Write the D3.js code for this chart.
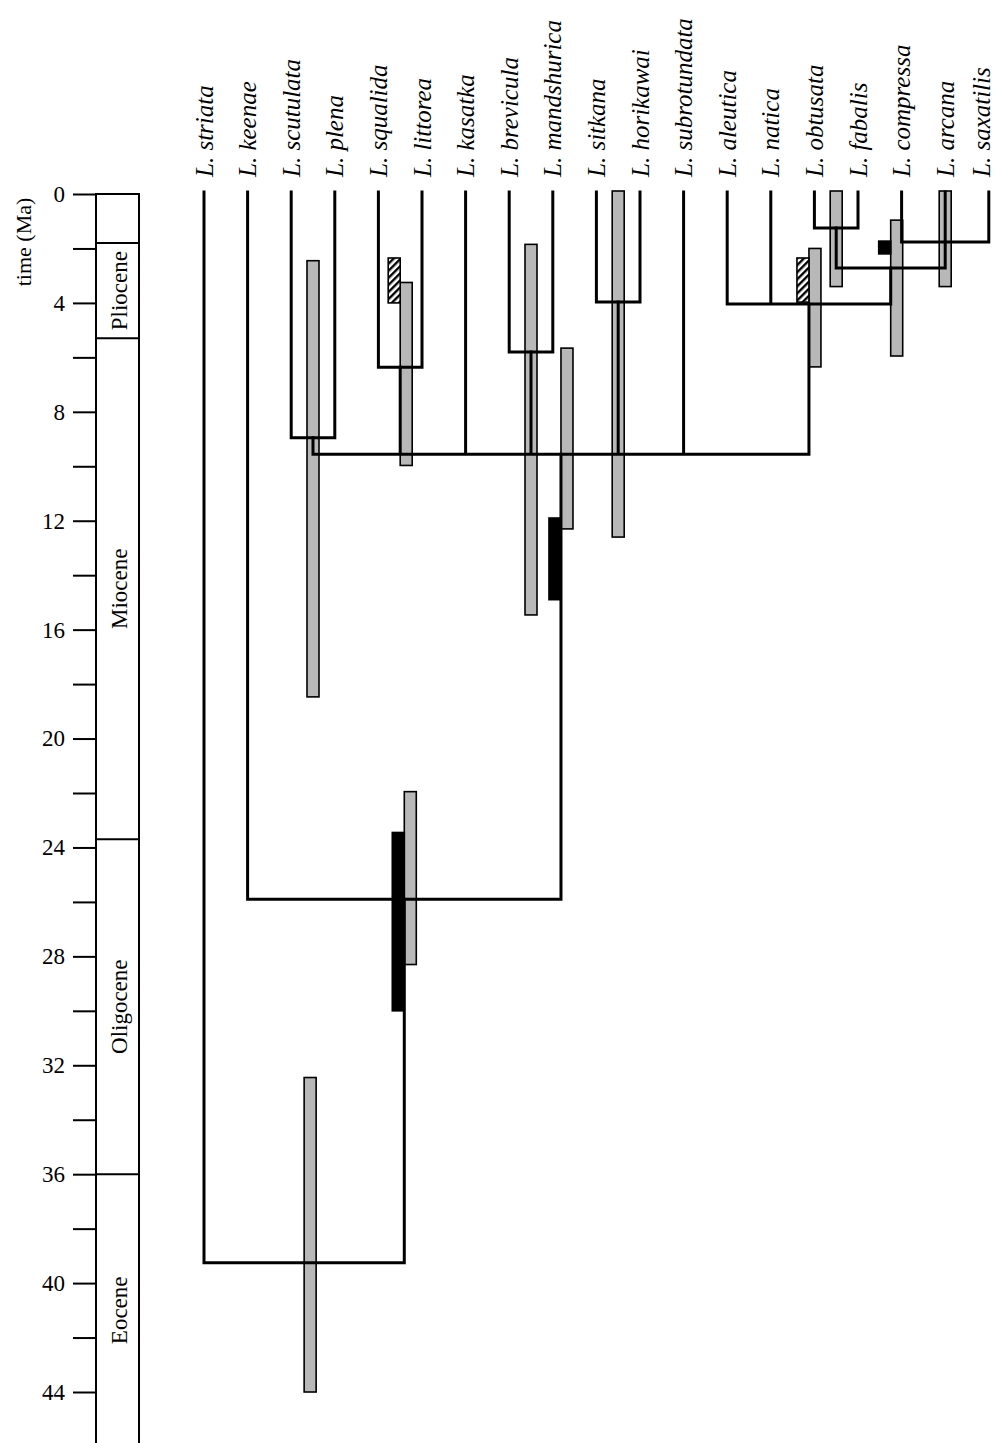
<!DOCTYPE html>
<html>
<head>
<meta charset="utf-8">
<script src="https://cdn.jsdelivr.net/npm/d3@7"></script>
<style>
  html, body { margin: 0; padding: 0; background: #fff; }
  svg { display: block; }
  text { font-family: "Liberation Serif", "Times New Roman", serif; fill: #000; }
</style>
</head>
<body>
<script>
// ---------- DATA ----------
const species = [
  "L. striata", "L. keenae", "L. scutulata", "L. plena", "L. squalida",
  "L. littorea", "L. kasatka", "L. brevicula", "L. mandshurica", "L. sitkana",
  "L. horikawai", "L. subrotundata", "L. aleutica", "L. natica", "L. obtusata",
  "L. fabalis", "L. compressa", "L. arcana", "L. saxatilis"
];

// internal nodes: id, age (Ma), children (species or node ids)
const nodeIds = ["scut_plena", "squal_litt", "brev_mand", "sitk_hori", "obt_fab",
  "comp_arc_sax", "n27", "n4", "n95", "n26", "root"];
const nodeAges = [8.95, 6.36, 5.8, 3.97, 1.25, 1.76, 2.72, 4.04, 9.56, 25.9, 39.25];
const nodeChildren = [
  ["L. scutulata", "L. plena"],
  ["L. squalida", "L. littorea"],
  ["L. brevicula", "L. mandshurica"],
  ["L. sitkana", "L. horikawai"],
  ["L. obtusata", "L. fabalis"],
  ["L. compressa", "L. arcana", "L. saxatilis"],
  ["obt_fab", "comp_arc_sax"],
  ["L. aleutica", "L. natica", "n27"],
  ["scut_plena", "squal_litt", "L. kasatka", "brev_mand", "sitk_hori", "L. subrotundata", "n4"],
  ["L. keenae", "n95"],
  ["L. striata", "n26"]
];

// age-range bars attached to nodes
const barNode  = ["root", "n26", "n26", "scut_plena", "squal_litt", "squal_litt", "brev_mand",
  "n95", "n95", "sitk_hori", "n4", "n4", "obt_fab", "n27", "n27", "comp_arc_sax"];
const barFrom  = [32.45, 21.95, 23.45, 2.45, 3.25, 2.35, 1.85, 5.66, 11.9, 0.0, 2.0, 2.35, 0.0, 0.96, 1.73, 0.0];
const barTo    = [44.0, 28.3, 30.0, 18.47, 9.97, 4.0, 15.46, 12.3, 14.9, 12.6, 6.35, 3.97, 3.4, 5.95, 2.2, 3.4];
const barKind  = ["grey", "grey", "black", "grey", "grey", "hatch", "grey",
  "grey", "black", "grey", "grey", "hatch", "grey", "grey", "black", "grey"];
const barSide  = [1, 1, -1, 0, 1, -1, 0, 1, -1, 0, 1, -1, 0, 1, -1, 0];

// time axis
const tickValues = d3.range(0, 46, 2);
const epochNames = ["", "Pliocene", "Miocene", "Oligocene", "Eocene"];
const epochBounds = [0, 1.8, 5.3, 23.7, 36, 46];

// ---------- DRAW ----------
const W = 996, H = 1443;
const svg = d3.select("body").append("svg").attr("width", W).attr("height", H);

const defs = svg.append("defs");
const hp = defs.append("pattern").attr("id", "hatch").attr("patternUnits", "userSpaceOnUse")
  .attr("width", 5).attr("height", 5).attr("patternTransform", "rotate(45)");
hp.append("rect").attr("width", 5).attr("height", 5).attr("fill", "#fff");
hp.append("rect").attr("width", 2.4).attr("height", 5).attr("fill", "#000");

const y = d3.scaleLinear().domain([0, 44]).range([194, 1392]);
const x = d3.scalePoint().domain(species).range([204, 988.8]);

// node positions
const pos = {};
species.forEach(s => { pos[s] = { x: x(s), age: 0 }; });
nodeIds.forEach((id, i) => {
  const xs = nodeChildren[i].map(c => pos[c].x);
  pos[id] = { x: (d3.min(xs) + d3.max(xs)) / 2, age: nodeAges[i], minX: d3.min(xs), maxX: d3.max(xs) };
});

// ---- left time axis ----
const axisG = svg.append("g").attr("transform", "translate(96,0)")
  .call(d3.axisLeft(y).tickValues(tickValues).tickSize(23).tickPadding(8)
    .tickFormat(d => d % 4 === 0 ? d : ""));
axisG.select(".domain").remove();
axisG.selectAll(".tick line").attr("stroke", "#000").attr("stroke-width", 2);
axisG.selectAll(".tick text").attr("font-size", 23).attr("fill", "#000");

// epoch column
const col = svg.append("g");
const boxL = 96, boxR = 139;
col.append("line").attr("x1", boxL).attr("x2", boxL).attr("y1", y(0) - 1).attr("y2", H)
  .attr("stroke", "#000").attr("stroke-width", 2);
col.append("line").attr("x1", boxR).attr("x2", boxR).attr("y1", y(0) - 1).attr("y2", H)
  .attr("stroke", "#000").attr("stroke-width", 2);
col.selectAll("line.bd").data(epochBounds.slice(0, 5)).enter().append("line")
  .attr("class", "bd")
  .attr("x1", boxL).attr("x2", boxR).attr("y1", d => y(d)).attr("y2", d => y(d))
  .attr("stroke", "#000").attr("stroke-width", 2);
col.selectAll("text").data(epochNames).enter().append("text")
  .attr("transform", (d, i) => `translate(${(boxL + boxR) / 2 + 1},${y((epochBounds[i] + epochBounds[i + 1]) / 2)}) rotate(-90)`)
  .attr("text-anchor", "middle").attr("dy", "0.35em")
  .attr("font-size", 23)
  .text(d => d);

svg.append("text")
  .attr("transform", `translate(23,242) rotate(-90)`)
  .attr("text-anchor", "middle").attr("dy", "0.35em")
  .attr("font-size", 22)
  .text("time (Ma)");

// ---- bars ----
const barW = 12;
const bars = barNode.map((n, i) => ({
  cx: pos[n].x + barSide[i] * 6, from: barFrom[i], to: barTo[i], kind: barKind[i]
}));
svg.append("g").selectAll("rect").data(bars).enter().append("rect")
  .attr("x", d => d.cx - barW / 2)
  .attr("y", d => y(d.from) - (d.from === 0 ? 3 : 0))
  .attr("width", barW)
  .attr("height", d => y(d.to) - y(d.from) + (d.from === 0 ? 3 : 0))
  .attr("fill", d => d.kind === "grey" ? "#b8b8b8" : d.kind === "black" ? "#000" : "url(#hatch)")
  .attr("stroke", "#000").attr("stroke-width", 1.6);

// ---- tree lines ----
const tree = svg.append("g").attr("fill", "none").attr("stroke", "#000")
  .attr("stroke-width", 3).attr("stroke-linecap", "square");
nodeIds.forEach((id, i) => {
  const p = pos[id];
  const path = d3.path();
  path.moveTo(p.minX, y(p.age));
  path.lineTo(p.maxX, y(p.age));
  nodeChildren[i].forEach(c => {
    const q = pos[c];
    path.moveTo(q.x, q.age === 0 ? y(0) - 2 : y(q.age));
    path.lineTo(q.x, y(p.age));
  });
  tree.append("path").attr("d", path.toString());
});

// ---- species labels ----
svg.append("g").selectAll("text").data(species).enter().append("text")
  .attr("transform", d => `translate(${Math.min(x(d) + 8.5, 990)},177) rotate(-90)`)
  .attr("text-anchor", "start")
  .attr("font-size", 25).attr("font-style", "italic")
  .text(d => d);
</script>
</body>
</html>
